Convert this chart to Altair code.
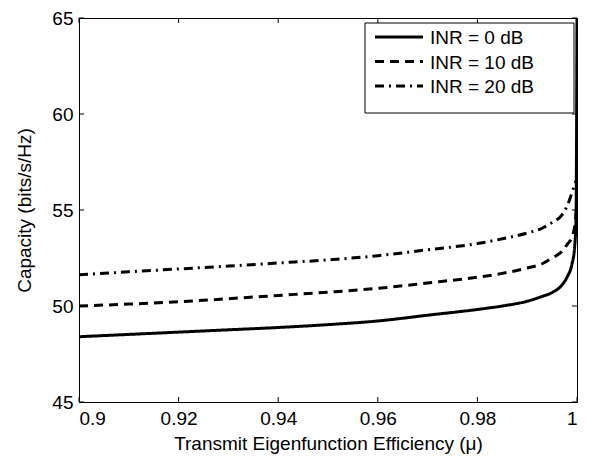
import altair as alt
import pandas as pd

# ---- data ----
mu = [0.9, 0.91, 0.92, 0.93, 0.94, 0.95, 0.96, 0.97, 0.98, 0.985, 0.99,
      0.993, 0.995, 0.997, 0.998, 0.999, 0.9995, 0.9998, 1.0]
cap_inr0 = [48.4, 48.52, 48.64, 48.76, 48.88, 49.03, 49.22, 49.52, 49.82, 50.0, 50.25,
            50.5, 50.7, 51.1, 51.5, 52.2, 53.0, 54.5, 65.0]
cap_inr10 = [50.0, 50.1, 50.22, 50.38, 50.55, 50.72, 50.92, 51.2, 51.5, 51.7, 51.98,
             52.2, 52.5, 52.85, 53.2, 53.6, 54.1, 54.8, 55.6]
cap_inr20 = [51.63, 51.78, 51.93, 52.08, 52.24, 52.4, 52.62, 52.93, 53.25, 53.5, 53.8,
             54.05, 54.35, 54.75, 55.2, 55.9, 56.3, 56.5, 56.7]
series = ["INR = 0 dB", "INR = 10 dB", "INR = 20 dB"]
dashes = [[1, 0], [9, 6], [9, 5, 2, 5]]
x_ticks = [0.9, 0.92, 0.94, 0.96, 0.98, 1.0]
y_ticks = [45, 50, 55, 60, 65]

rows = []
for name, vals in zip(series, [cap_inr0, cap_inr10, cap_inr20]):
    for m, v in zip(mu, vals):
        rows.append({"mu": m, "cap": v, "series": name})
df = pd.DataFrame(rows)

W, H = 498, 384
FONT = "Liberation Sans"
xscale = alt.Scale(domain=[0.9, 1.0], nice=False, zero=False)
yscale = alt.Scale(domain=[45, 65], nice=False, zero=False)
x_axis = alt.Axis(title="Transmit Eigenfunction Efficiency (μ)", values=x_ticks,
                  format=".2~f", labelPadding=7, titlePadding=6)
y_axis = alt.Axis(title="Capacity (bits/s/Hz)", values=y_ticks,
                  labelPadding=6, titlePadding=17)

lines = alt.Chart(df).mark_line(color="black", strokeWidth=3, clip=True,
                                interpolate="monotone").encode(
    x=alt.X("mu:Q", scale=xscale, axis=x_axis),
    y=alt.Y("cap:Q", scale=yscale, axis=y_axis),
    strokeDash=alt.StrokeDash("series:N", scale=alt.Scale(domain=series, range=dashes),
                              legend=None),
    order=alt.Order("mu:Q"),
)

xt = pd.DataFrame({"t": x_ticks})
yt = pd.DataFrame({"t": y_ticks})
tick_style = dict(color="black", strokeWidth=1)
bottom = alt.Chart(xt).mark_rule(**tick_style).encode(
    x=alt.X("t:Q", scale=xscale, axis=x_axis), y=alt.value(H), y2=alt.value(H - 5))
top = alt.Chart(xt).mark_rule(**tick_style).encode(
    x=alt.X("t:Q", scale=xscale, axis=x_axis), y=alt.value(0), y2=alt.value(5))
left = alt.Chart(yt).mark_rule(**tick_style).encode(
    y=alt.Y("t:Q", scale=yscale, axis=y_axis), x=alt.value(0), x2=alt.value(5))
right = alt.Chart(yt).mark_rule(**tick_style).encode(
    y=alt.Y("t:Q", scale=yscale, axis=y_axis), x=alt.value(W), x2=alt.value(W - 5))

# ---- legend box drawn by hand (top-right inside the plot) ----
LX0, LX1, LY0, LY1 = 286, 495, 5, 95
box = alt.Chart(pd.DataFrame({"k": [0]})).mark_rect(
    fill="white", stroke="black", strokeWidth=1).encode(
    x=alt.value(LX0), x2=alt.value(LX1), y=alt.value(LY0), y2=alt.value(LY1))
legend_layers = [box]
row_y = [19, 43.5, 68]
for name, dash, ry in zip(series, dashes, row_y):
    one = pd.DataFrame({"series": [name]})
    legend_layers.append(
        alt.Chart(one).mark_rule(color="black", strokeWidth=3, strokeDash=dash).encode(
            x=alt.value(296), x2=alt.value(344), y=alt.value(ry)))
    legend_layers.append(
        alt.Chart(one).mark_text(align="left", baseline="middle", font=FONT,
                                 fontSize=19, color="black").encode(
            x=alt.value(351), y=alt.value(ry + 1), text="series:N"))

chart = alt.layer(lines, bottom, top, left, right, *legend_layers).properties(
    width=W, height=H,
    autosize=alt.AutoSizeParams(type="none"),
    padding={"left": 71, "top": 10, "right": 12, "bottom": 56},
).configure_view(stroke="black", strokeWidth=1).configure_axis(
    grid=False, ticks=False, tickSize=0, domainColor="black", domainWidth=1,
    labelFont=FONT, labelFontSize=19, labelColor="black",
    titleFont=FONT, titleFontSize=19, titleColor="black", titleFontWeight="normal",
)

chart.save("out.html", embed_options={"renderer": "svg", "actions": False})
